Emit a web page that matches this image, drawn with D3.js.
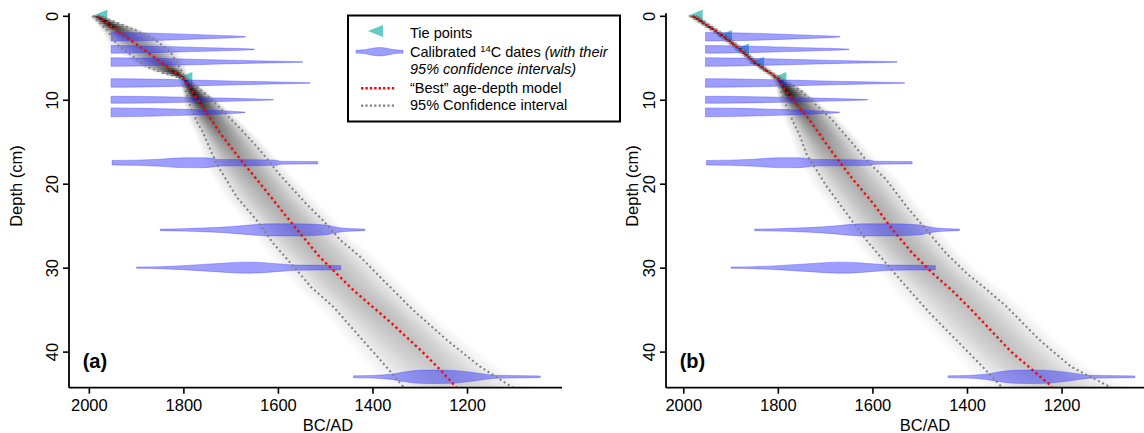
<!DOCTYPE html>
<html>
<head>
<meta charset="utf-8">
<script src="https://cdn.jsdelivr.net/npm/d3@7"></script>
<style>
  body { margin: 0; background: #fff; }
  svg { display: block; }
  text { font-family: "Liberation Sans", Arial, Helvetica, sans-serif; fill: #000; }
</style>
</head>
<body>
<svg id="chart" width="1144" height="433"></svg>
<script>
// ---------- data ----------
const xTicks = [2000, 1800, 1600, 1400, 1200];
const yTicks = [0, 10, 20, 30, 40];
const panelLabels = ["(a)", "(b)"];
const xTitle = "BC/AD";
const yTitle = "Depth (cm)";

// Age-depth model (a): [depth cm, year AD]
const bestA = [[0,1982],[2,1934],[3.85,1888],[6.44,1825],[7.4,1800],[9.6,1774],[14,1722],[17.2,1678],
  [19.6,1643],[23.2,1592],[25.5,1559],[28.7,1512],[30.7,1476],[32.7,1440],[36.7,1358],[40,1295],[42.2,1256],[44.3,1222]];
const ciYoungA = [[0,1992],[1.86,1959],[3.4,1941],[4.7,1910],[6.07,1877],[6.67,1850],[7.27,1815],[7.4,1803],
  [8.65,1797],[10.6,1786],[12.6,1772],[13.6,1761],[17.6,1730],[21.6,1687],[24.35,1645],[27.1,1610],[30.3,1560],
  [32.3,1530],[34.7,1482],[38.3,1426],[41.4,1377],[44.3,1333]];
const ciOldA = [[0,1978],[0.67,1948],[1.67,1903],[2.86,1860],[4.24,1828],[5.84,1811],[7.27,1797],[7.4,1796],
  [8.6,1768],[9.73,1745],[10.85,1725],[13.6,1677],[16,1638],[18.8,1598],[22.4,1540],[24.35,1505],[26.7,1468],
  [28.7,1426],[31.5,1377],[35.1,1313],[38.65,1242],[41.8,1172],[44.3,1103]];
const tiesA = [[0,1980],[7.4,1800]];

// Age-depth model (b): [depth cm, year AD]
const bestB = [[0,1980],[2.4,1916],[4,1880],[5.6,1848],[7.4,1801],[9.57,1775],[12.4,1733],[16.4,1683],
  [19.5,1641],[22.3,1599],[25.5,1557],[28.3,1515],[30.7,1472],[32.7,1432],[35,1391],[40,1307],[43.9,1226],[44.3,1220]];
const ciYoungB = [[0,1986],[2.4,1921],[4,1885],[5.6,1852],[7.4,1805],[8.4,1797],[9.8,1789],[12.6,1768],
  [14.2,1754],[16.4,1740],[20.3,1697],[23.5,1655],[26.7,1613],[29.5,1571],[32.3,1528],[35.4,1479],[38.6,1423],
  [41.4,1374],[44.3,1325]];
const ciOldB = [[0,1974],[2.4,1911],[4,1875],[5.6,1844],[7.4,1797],[8.4,1765],[9,1750],[12.3,1687],[14.8,1648],
  [17.2,1613],[19.5,1571],[22.7,1528],[25.5,1486],[28.3,1444],[30.7,1400],[32.3,1365],[34.6,1317],[38.6,1247],
  [41.8,1180],[44.3,1095]];
const tiesB = [[0,1978],[2.4,1916],[4,1880],[5.6,1848],[7.4,1801]];

// Calibrated 14C dates: sample depths and relative probability [year AD, density]
const dateDepths = [2.5, 4, 5.5, 8, 10, 11.5, 17.5, 25.5, 30, 43];
const dateProbs = [
  [[1953,.61],[1900,.57],[1843,.49],[1780,.34],[1720,.2],[1690,.13],[1669,.04]],
  [[1953,.54],[1900,.51],[1840,.43],[1780,.31],[1720,.2],[1680,.13],[1650,.04]],
  [[1953,.61],[1880,.56],[1800,.43],[1720,.29],[1650,.17],[1590,.1],[1548,.04]],
  [[1953,.61],[1880,.57],[1800,.46],[1720,.31],[1650,.2],[1580,.11],[1532,.04]],
  [[1953,.5],[1880,.47],[1800,.37],[1720,.24],[1660,.14],[1610,.04]],
  [[1953,.64],[1880,.57],[1800,.43],[1740,.29],[1700,.17],[1670,.04]],
  [[1951,.31],[1900,.37],[1850,.5],[1800,.7],[1760,.71],[1735,.57],[1726,.47],[1660,.44],[1605,.37],[1595,.21],[1516,.17]],
  [[1849,.11],[1800,.17],[1760,.26],[1705,.43],[1660,.69],[1620,.86],[1560,.86],[1500,.71],[1480,.43],[1465,.26],[1450,.19],[1416,.11]],
  [[1899,.09],[1850,.14],[1800,.29],[1750,.5],[1700,.71],[1670,.79],[1630,.71],[1590,.5],[1560,.37],[1500,.34],[1467,.29]],
  [[1440,.14],[1400,.19],[1360,.37],[1330,.71],[1300,.93],[1260,.96],[1220,.86],[1190,.64],[1160,.36],[1140,.21],[1100,.17],[1045,.13]]
];

// Legend entries and swatch profile
const legendItems = ["Tie points", "Calibrated", "", "\u201CBest\u201D age-depth model", "95% Confidence interval"];
const legendSwatch = [[0,.2],[0.2,.3],[0.35,.5],[0.5,.6],[0.65,.5],[0.8,.3],[1,.2]];

// ---------- layout ----------
const svg = d3.select("#chart");
const defs = svg.append("defs");
const FONT = 16.5;
const yScale = d3.scaleLinear().domain([-0.3, 44.3]).range([13.3, 387.7]);
const probScale = d3.scaleLinear().domain([0, 1]).range([0, 7]);

const panels = [
  { label: panelLabels[0], best: bestA, young: ciYoungA, old: ciOldA, ties: tiesA,
    x: d3.scaleLinear().domain([2042, 999]).range([69, 562]), yLabX: 21.5 },
  { label: panelLabels[1], best: bestB, young: ciYoungB, old: ciOldB, ties: tiesB,
    x: d3.scaleLinear().domain([2036.5, 994]).range([666, 1159]), yLabX: 637.5 }
];

const interp = arr => d3.scaleLinear().domain(arr.map(d => d[0])).range(arr.map(d => d[1])).clamp(true);

panels.forEach((p, pi) => {
  const x = p.x;
  const [px0, px1] = x.range();
  const [py0, py1] = yScale.range();
  const g = svg.append("g");

  const clipId = "plotclip" + pi;
  defs.append("clipPath").attr("id", clipId)
    .append("rect").attr("x", px0).attr("y", py0).attr("width", px1 - px0).attr("height", py1 - py0);

  // tie points (under the probability cloud)
  g.append("g").selectAll("path").data(p.ties).join("path")
    .attr("d", d => {
      const cx = x(d[1]), cy = yScale(d[0]);
      return `M${cx - 6},${cy} L${cx + 9},${cy - 6} L${cx + 9},${cy + 6} Z`;
    })
    .attr("fill", "#20b2aa").attr("fill-opacity", 0.7);

  const plot = g.append("g").attr("clip-path", `url(#${clipId})`);

  // greyscale age-depth probability cloud, one pixel row pair at a time
  const fBest = interp(p.best), fYoung = interp(p.young), fOld = interp(p.old);
  const cloud = plot.append("g").attr("shape-rendering", "crispEdges");
  const rowTop = Math.round(yScale(0)), rowBot = Math.ceil(py1);
  d3.range(rowTop, rowBot, 2).forEach((ry, i) => {
    const dm = yScale.invert(ry + 1);
    let [L, M, R] = [x(fYoung(dm)), x(fBest(dm)), x(fOld(dm))].sort((a, b) => a - b);
    const w = Math.max(R - L, 5);
    if (R - L < 5) { L = M - 2.5; R = M + 2.5; }
    const pad = Math.max(0.22 * w, 4);
    const x0 = L - pad, x1 = R + pad;
    const a = Math.min(0.92, 21 / w);
    const id = `cloud${pi}_${i}`;
    const grad = defs.append("linearGradient").attr("id", id)
      .attr("gradientUnits", "userSpaceOnUse")
      .attr("x1", x0).attr("x2", x1).attr("y1", 0).attr("y2", 0);
    [[x0, 0], [L, 0.3 * a], [(L + M) / 2, 0.72 * a], [M, a], [(M + R) / 2, 0.72 * a], [R, 0.3 * a], [x1, 0]]
      .forEach(([pos, op]) => grad.append("stop")
        .attr("offset", (pos - x0) / (x1 - x0))
        .attr("stop-color", "#000").attr("stop-opacity", op));
    cloud.append("rect")
      .attr("x", x0).attr("width", x1 - x0)
      .attr("y", ry).attr("height", 2)
      .attr("fill", `url(#${id})`);
  });

  // calibrated 14C date distributions
  plot.append("g").selectAll("path").data(dateProbs).join("path")
    .attr("d", (prob, k) => d3.area()
      .x(d => x(d[0]))
      .y0(d => yScale(dateDepths[k]) - probScale(d[1]))
      .y1(d => yScale(dateDepths[k]) + probScale(d[1]))
      .curve(d3.curveMonotoneX)(prob))
    .attr("fill", "#2828ff").attr("fill-opacity", 0.45)
    .attr("stroke", "#3c3cff").attr("stroke-opacity", 0.45).attr("stroke-width", 0.8);

  // 95% confidence bounds
  const depthLine = d3.line().x(d => x(d[1])).y(d => yScale(d[0]));
  [p.young, p.old].forEach(arr => plot.append("path").attr("d", depthLine(arr))
    .attr("fill", "none").attr("stroke", "#7f7f7f").attr("stroke-width", 2)
    .attr("stroke-dasharray", "2 2.8"));

  // best age-depth model
  plot.append("path").attr("d", depthLine(p.best))
    .attr("fill", "none").attr("stroke", "#ff0000").attr("stroke-width", 2.3)
    .attr("stroke-dasharray", "2.3 3");

  // axes
  const ax = g.append("g").attr("transform", `translate(0,${py1})`)
    .call(d3.axisBottom(x).tickValues(xTicks).tickSize(6).tickSizeOuter(0).tickFormat(d3.format("d")));
  ax.select(".domain").attr("stroke-width", 1.8).attr("d", `M${px0},0H${px1}`);
  ax.selectAll(".tick line").attr("stroke-width", 1.6);
  ax.selectAll(".tick text").attr("font-size", FONT).attr("dy", null).attr("y", 23.3)
    .style("font-family", '"Liberation Sans", Arial, sans-serif');

  const ay = g.append("g").attr("transform", `translate(${px0},0)`)
    .call(d3.axisLeft(yScale).tickValues(yTicks).tickSize(6).tickSizeOuter(0));
  ay.select(".domain").attr("stroke-width", 1.8).attr("d", `M0,${py0}V${py1}`);
  ay.selectAll(".tick line").attr("stroke-width", 1.6);
  ay.selectAll(".tick text").remove();
  ay.selectAll(".tick").append("text")
    .attr("transform", "translate(-11.5,0) rotate(-90)")
    .attr("text-anchor", "middle").attr("font-size", FONT)
    .style("font-family", '"Liberation Sans", Arial, sans-serif')
    .text(d => d);

  g.append("text").attr("x", (px0 + px1) / 2 + 12.5).attr("y", 430.5)
    .attr("text-anchor", "middle").attr("font-size", FONT).text(xTitle);
  g.append("text").attr("transform", `translate(${p.yLabX},186) rotate(-90)`)
    .attr("text-anchor", "middle").attr("font-size", FONT).text(yTitle);

  g.append("text").attr("x", px0 + 13.7).attr("y", 367.5)
    .attr("font-size", 20).attr("font-weight", "bold").text(p.label);
});

// ---------- legend ----------
const lg = svg.append("g");
lg.append("rect").attr("x", 348).attr("y", 15.5).attr("width", 272).attr("height", 106)
  .attr("fill", "#fff").attr("stroke", "#000").attr("stroke-width", 2);

const base = [38.3, 56.7, 74.3, 92.7, 110];
const tx = 410, LF = 14.5;
lg.append("text").attr("x", tx).attr("y", base[0]).attr("font-size", LF).text(legendItems[0]);
const cal = lg.append("text").attr("x", tx).attr("y", base[1]).attr("font-size", LF);
cal.append("tspan").text(legendItems[1] + " ");
cal.append("tspan").attr("font-size", 9.5).attr("dy", -5).text("14");
cal.append("tspan").attr("dy", 5).text("C dates ");
cal.append("tspan").attr("font-style", "italic").text("(with their");
lg.append("text").attr("x", tx).attr("y", base[2]).attr("font-size", LF)
  .attr("font-style", "italic").text("95% confidence intervals)");
lg.append("text").attr("x", tx).attr("y", base[3]).attr("font-size", LF).text(legendItems[3]);
lg.append("text").attr("x", tx).attr("y", base[4]).attr("font-size", LF).text(legendItems[4]);

lg.append("path").attr("d", "M368,31 L383,25 L383,37 Z")
  .attr("fill", "#20b2aa").attr("fill-opacity", 0.7);
const sw = d3.scaleLinear().domain([0, 1]).range([356, 403]);
lg.append("path")
  .attr("d", d3.area().x(d => sw(d[0])).y0(d => 51.7 - probScale(d[1])).y1(d => 51.7 + probScale(d[1]))
    .curve(d3.curveMonotoneX)(legendSwatch))
  .attr("fill", "#2828ff").attr("fill-opacity", 0.45)
  .attr("stroke", "#3c3cff").attr("stroke-opacity", 0.45).attr("stroke-width", 0.8);
lg.append("line").attr("x1", 361).attr("x2", 396).attr("y1", 88.3).attr("y2", 88.3)
  .attr("stroke", "#ff0000").attr("stroke-width", 2.4).attr("stroke-dasharray", "2.4 2");
lg.append("line").attr("x1", 361).attr("x2", 396).attr("y1", 105.7).attr("y2", 105.7)
  .attr("stroke", "#7f7f7f").attr("stroke-width", 2.2).attr("stroke-dasharray", "2.2 2.2");
</script>
</body>
</html>
